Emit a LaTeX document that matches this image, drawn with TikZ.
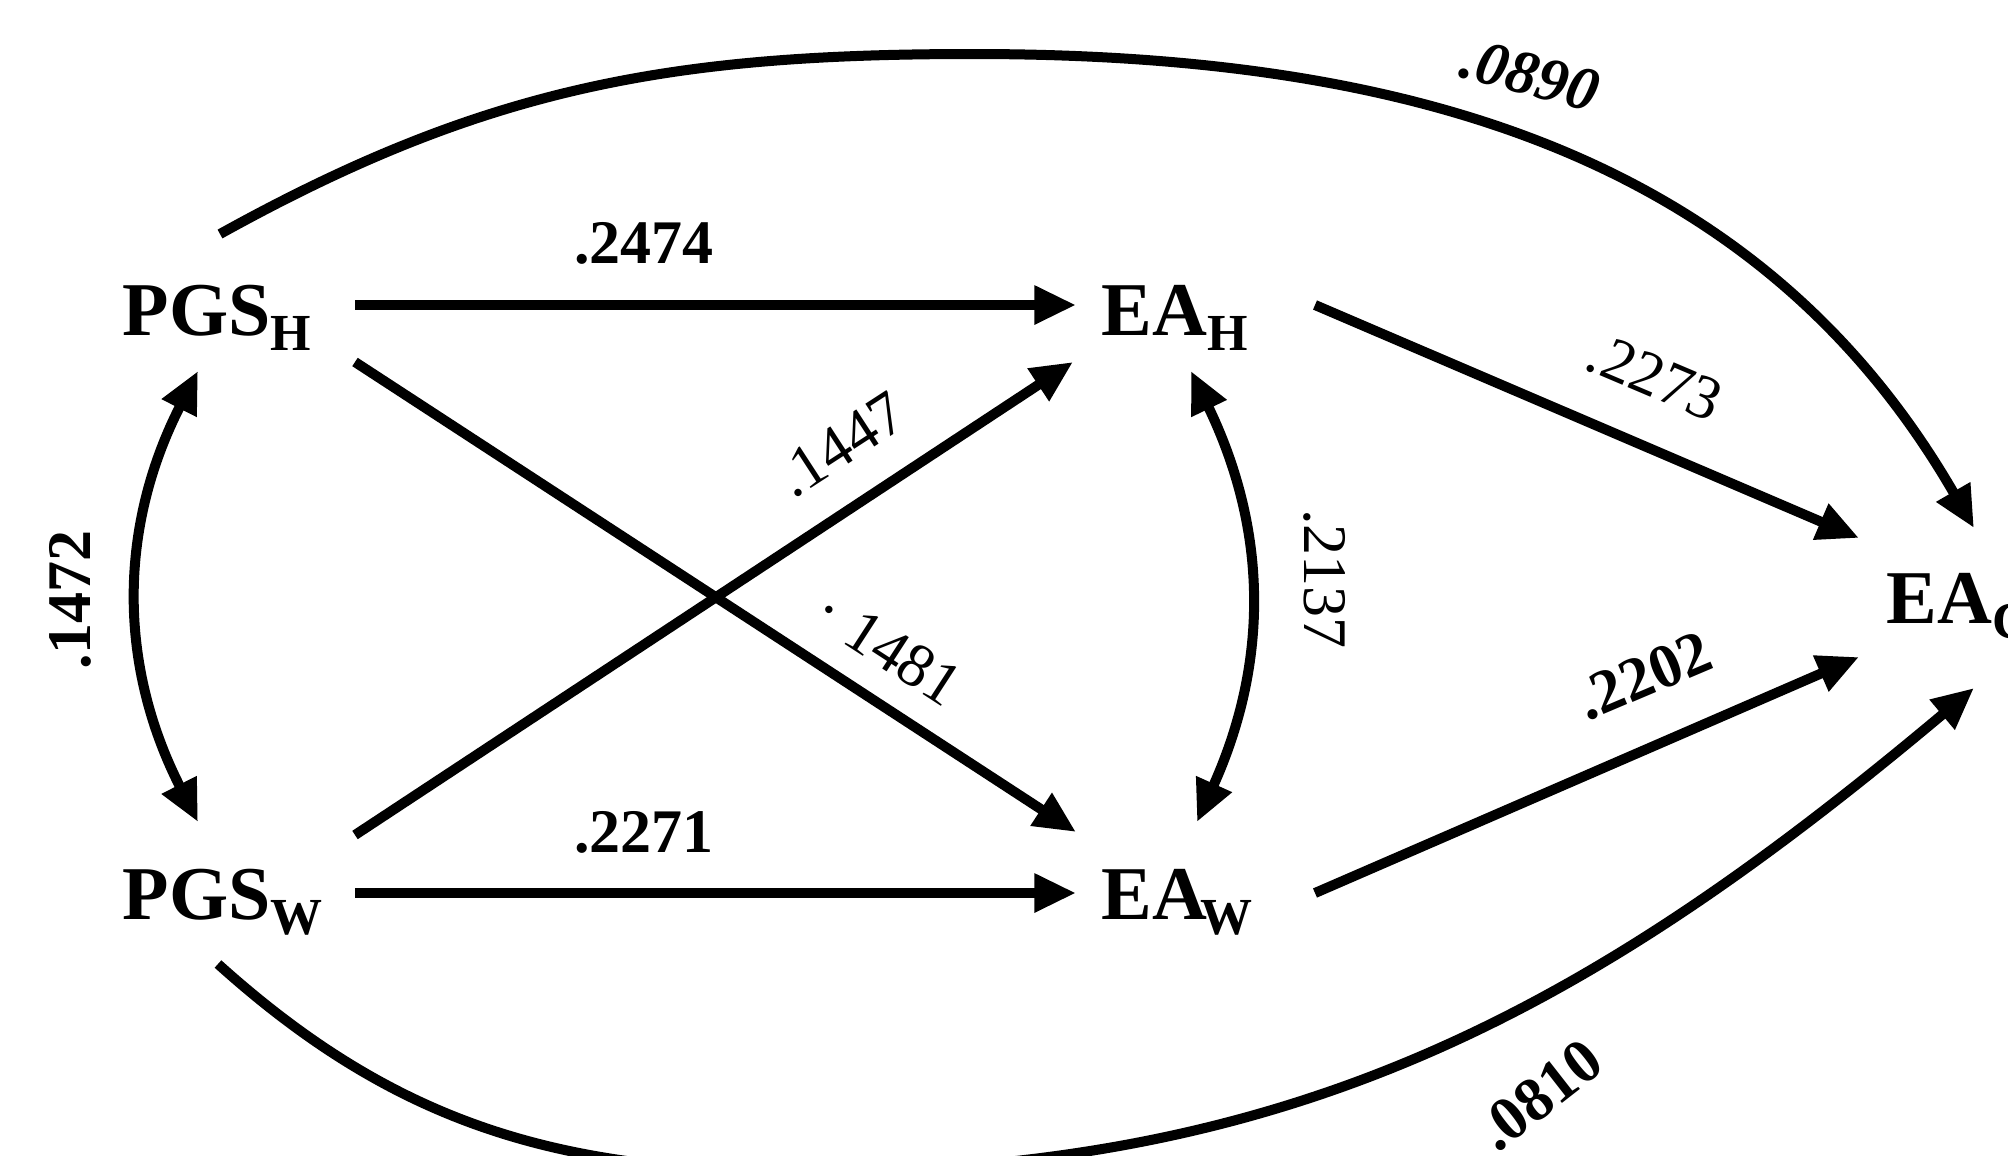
\documentclass[tikz,border=0pt]{standalone}
\usepackage{fontspec}
\setmainfont{Liberation Serif}
\usetikzlibrary{arrows.meta}
\newcommand\subx[1]{\raisebox{-4.5pt}{\fontsize{15.6}{15.6}\selectfont\bfseries #1}}
\begin{document}
\begin{tikzpicture}[x=0.3pt,y=0.3pt,
  var/.style={inner sep=0pt, anchor=base west, font=\fontsize{22.8}{22.8}\selectfont\bfseries},
  lbl/.style={inner sep=0pt, font=\fontsize{18.6}{18.6}\selectfont},
  blbl/.style={inner sep=0pt, font=\fontsize{18.6}{18.6}\selectfont\bfseries},
  conn/.style={line width=3pt, -{Triangle[length=12.5pt,width=11pt]}},
  dconn/.style={line width=3pt, {Triangle[length=12.5pt,width=11pt]}-{Triangle[length=12.5pt,width=11pt]}}
]
\useasboundingbox (0,0) rectangle (2008,-1156);
\clip (0,0) rectangle (2008,-1156);

% variables
\node[var] (ph) at (122,-335) {PGS\subx{H}};
\node[var] (pw) at (122,-919) {PGS\subx{W}};
\node[var] (eh) at (1101,-335) {EA\subx{H}};
\node[var] (ew) at (1101,-919) {EA\kern-2pt\subx{W}};
\node[var] (ec) at (1886,-623) {EA\subx{C}};

% straight paths
\draw[conn] ([shift={(233,30)}]ph.base west) -- ([shift={(-25,30)}]eh.base west);
\draw[conn] ([shift={(233,26)}]pw.base west) -- ([shift={(-25,26)}]ew.base west);
\draw[conn] ([shift={(233,-27)}]ph.base west) -- ([shift={(-25,87)}]ew.base west);
\draw[conn] ([shift={(233,84)}]pw.base west) -- ([shift={(-28,-27)}]eh.base west);
\draw[conn] ([shift={(214,30)}]eh.base west) -- ([shift={(-27,85)}]ec.base west);
\draw[conn] ([shift={(214,26)}]ew.base west) -- ([shift={(-27,-34)}]ec.base west);

% curved paths
\draw[conn] ([shift={(98,101)}]ph.base west) to[out=29,in=180] (973,-54) to[out=0,in=120] ([shift={(88,95)}]ec.base west);
\draw[conn] ([shift={(96,-45)}]pw.base west) to[out=-42,in=180] (807,-1172) to[out=0,in=220] ([shift={(88,-65)}]ec.base west);

% correlations
\draw[dconn] ([shift={(76,-36)}]ph.base west) to[bend right=27] ([shift={(76,97)}]pw.base west);
\draw[dconn] ([shift={(90,-36)}]eh.base west) to[bend left=25] ([shift={(96,97)}]ew.base west);

% labels
\node[blbl, anchor=base] (l1) at (644,-263) {.2474};
\node[blbl, anchor=base] (l2) at (644,-852) {.2271};
\node[lbl, rotate=33] (l3) at (841,-445) {.1447};
\node[lbl, rotate=-33] (l4) at (888,-648) {· 1481};
\node[lbl, rotate=-23] (l5) at (1655,-377) {.2273};
\node[blbl, rotate=23] (l6) at (1644,-676) {.2202};
\node[lbl, rotate=-90] (l7) at (1325,-579) {.2137};
\node[blbl, rotate=90] (l8) at (70,-600) {.1472};
\node[blbl, rotate=-15, font=\fontsize{18.6}{18.6}\selectfont\bfseries\itshape] (l9) at (1530,-75) {.0890};
\node[blbl, rotate=38] (l10) at (1540,-1095) {.0810};
\end{tikzpicture}
\end{document}
